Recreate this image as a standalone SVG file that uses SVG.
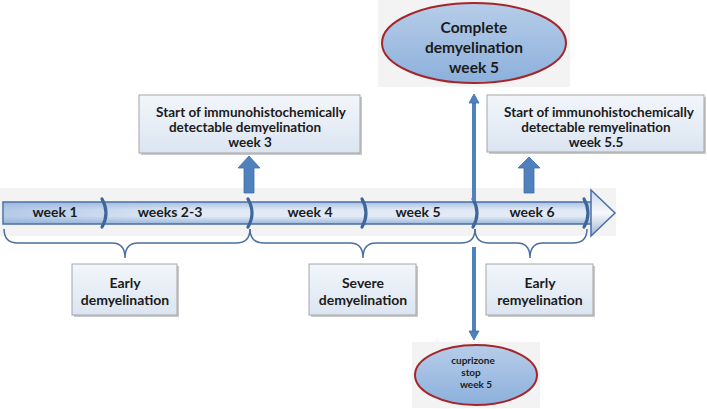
<svg xmlns="http://www.w3.org/2000/svg" width="707" height="409" viewBox="0 0 707 409">
<defs>
<linearGradient id="barGrad" x1="0" y1="0" x2="0" y2="1">
<stop offset="0" stop-color="#a9c1e2"/>
<stop offset="0.35" stop-color="#dfe8f4"/>
<stop offset="0.65" stop-color="#e3ebf6"/>
<stop offset="1" stop-color="#9ab7dc"/>
</linearGradient>
<linearGradient id="barTint" x1="0" y1="0" x2="1" y2="0">
<stop offset="0" stop-color="#8fb0dc" stop-opacity="0.55"/>
<stop offset="1" stop-color="#8fb0dc" stop-opacity="0"/>
</linearGradient>
<linearGradient id="headGrad" x1="0" y1="0" x2="0" y2="1">
<stop offset="0" stop-color="#c9d6e8"/>
<stop offset="0.5" stop-color="#f7f9fc"/>
<stop offset="1" stop-color="#9fb3cf"/>
</linearGradient>
<linearGradient id="boxGrad" x1="0" y1="0" x2="0" y2="1">
<stop offset="0" stop-color="#f2f6fb"/>
<stop offset="1" stop-color="#dbe5f1"/>
</linearGradient>
<linearGradient id="ellGrad" x1="0" y1="0" x2="0" y2="1">
<stop offset="0" stop-color="#b7cde9"/>
<stop offset="1" stop-color="#8cb0dc"/>
</linearGradient>
<marker id="head" markerUnits="userSpaceOnUse" markerWidth="10" markerHeight="10" refX="0" refY="5" orient="auto" overflow="visible">
<path d="M0,0 L9,5 L0,10 Z" fill="#4f81bd" stroke="#3f6ea6" stroke-width="0.8"/>
</marker>
</defs>
<style>
text { font-family: Lato, "Open Sans", "Liberation Sans", sans-serif; font-weight: bold; fill: #1b1b1b; text-anchor: middle; }
.lbl { font-size: 14px; }
.top { font-size: 13.5px; }
.box { fill: url(#boxGrad); stroke: #a6a6a6; stroke-width: 1; }
.shadow { fill: #9c9c9c; opacity: 0.55; }
.ell { fill: url(#ellGrad); stroke: #a3262b; stroke-width: 2; }
.bg { fill: #f3f3f3; }
.brace { fill: none; stroke: #4a6ea0; stroke-width: 1.5; }
.div { fill: none; stroke: #3e6698; stroke-width: 3.2; stroke-linecap: round; }
.block { fill: #4f81bd; stroke: #3f6ea6; stroke-width: 0.8; }
.thin { stroke: #4f81bd; stroke-width: 4; fill: none; }
</style>
<rect class="bg" x="0" y="188" width="616" height="48"/>
<rect class="bg" x="378" y="0" width="192" height="87"/>
<rect class="bg" x="412" y="342" width="128" height="66"/>

<g id="timeline">
<rect x="3" y="202" width="589" height="22" fill="url(#barGrad)" stroke="#4a6fa5" stroke-width="1.5"/>
<rect x="4" y="203" width="200" height="20" fill="url(#barTint)"/>
<path d="M591,190 L615,213 L591,236 Z" fill="url(#headGrad)" stroke="#4a6fa5" stroke-width="1.5"/>
<path class="div" d="M102,199 Q110,213 102,227"/>
<path class="div" d="M248,199 Q256,213 248,227"/>
<path class="div" d="M362,199 Q370,213 362,227"/>
<path class="div" d="M473,199 Q481,213 473,227"/>
<path class="div" d="M584,199 Q592,213 584,227"/>
<text class="lbl" x="55" y="217">week 1</text>
<text class="lbl" x="170" y="217">weeks 2-3</text>
<text class="lbl" x="310" y="217">week 4</text>
<text class="lbl" x="418" y="217">week 5</text>
<text class="lbl" x="532" y="217">week 6</text>
</g>

<g id="connectors">
<path class="brace" d="M4,229 Q4,243 18,243 L112,243 Q125,243 125,258 Q125,243 138,243 L236,243 Q250,243 250,229"/>
<path class="brace" d="M250,229 Q250,243 264,243 L350,243 Q363,243 363,258 Q363,243 376,243 L461,243 Q475,243 475,229"/>
<path class="brace" d="M475,229 Q475,243 489,243 L517,243 Q530,243 530,258 Q530,243 543,243 L573,243 Q587,243 587,229"/>
<polygon class="block" points="244,193 254,193 254,168 260,168 249,156 238,168 244,168"/>
<polygon class="block" points="524,193 534,193 534,168 540,168 529,157 518,168 524,168"/>
<line class="thin" x1="474" y1="201" x2="474" y2="103" marker-end="url(#head)"/>
<line class="thin" x1="474" y1="247" x2="474" y2="331" marker-end="url(#head)"/>
</g>

<g id="node-start-demyelination">
<rect class="shadow" x="141" y="97" width="221" height="58"/>
<rect class="box" x="139" y="95" width="221" height="58"/>
<text class="top" x="251" y="117">Start of immunohistochemically</text>
<text class="top" x="245" y="132">detectable demyelination</text>
<text class="top" x="250" y="147">week 3</text>
</g>

<g id="node-complete-demyelination">
<ellipse class="ell" cx="474" cy="43" rx="92" ry="40"/>
<text x="474" y="33" font-size="15.5">Complete</text>
<text x="474" y="53" font-size="15.5">demyelination</text>
<text x="474" y="73" font-size="15.5">week 5</text>
</g>

<g id="node-start-remyelination">
<rect class="shadow" x="489" y="97" width="217" height="57"/>
<rect class="box" x="487" y="95" width="217" height="57"/>
<text class="top" x="599" y="117">Start of immunohistochemically</text>
<text class="top" x="596" y="132">detectable remyelination</text>
<text class="top" x="596" y="147">week 5.5</text>
</g>

<g id="node-early-demyelination">
<rect class="shadow" x="74" y="266" width="105" height="51"/>
<rect class="box" x="72" y="264" width="105" height="51"/>
<text class="lbl" x="125" y="288">Early</text>
<text class="lbl" x="125" y="305">demyelination</text>
</g>

<g id="node-severe-demyelination">
<rect class="shadow" x="311" y="266" width="107" height="51"/>
<rect class="box" x="309" y="264" width="107" height="51"/>
<text class="lbl" x="363" y="288">Severe</text>
<text class="lbl" x="363" y="305">demyelination</text>
</g>

<g id="node-early-remyelination">
<rect class="shadow" x="488" y="266" width="107" height="51"/>
<rect class="box" x="486" y="264" width="107" height="51"/>
<text class="lbl" x="540" y="288">Early</text>
<text class="lbl" x="540" y="305">remyelination</text>
</g>

<g id="node-cuprizone-stop">
<ellipse class="ell" cx="476" cy="375" rx="61" ry="30"/>
<text x="473" y="364" font-size="10">cuprizone</text>
<text x="471" y="376" font-size="10">stop</text>
<text x="476" y="388" font-size="10">week 5</text>
</g>
</svg>
